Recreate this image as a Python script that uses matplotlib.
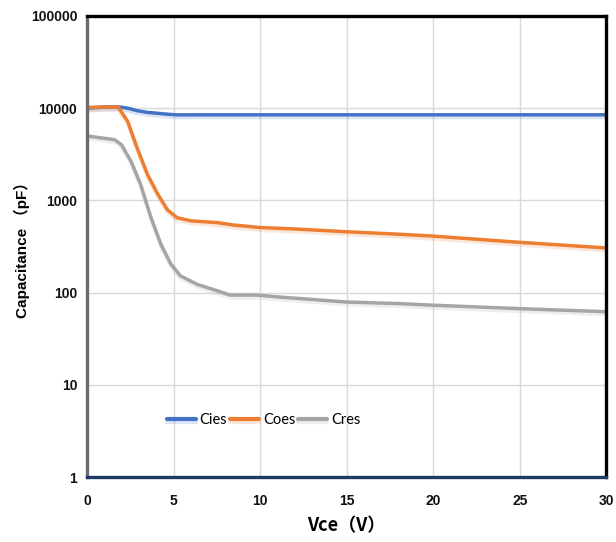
import numpy as np
import matplotlib
matplotlib.use("Agg")
import matplotlib.pyplot as plt
import matplotlib.patheffects as pe

plt.rcParams["font.family"] = ["Liberation Sans", "DejaVu Sans"]

# values (Vce in V, capacitance in pF)
vce = [0, 1, 1.8, 2.35, 2.9, 3.5, 4.1, 4.65, 5.2, 6.0, 7.5, 8.5, 10, 12, 15, 18, 20, 25, 30]
cies = [10000, 10300, 10350, 10000, 9400, 9000, 8800, 8600, 8470, 8470, 8480,
        8480, 8480, 8480, 8480, 8480, 8480, 8480, 8480]
coes = [10200, 10300, 10300, 7200, 3700, 1900, 1160, 790, 650, 600, 575, 540,
        508, 490, 457, 430, 410, 351, 305]

vce_r = [0, 1.6, 2.0, 2.55, 3.1, 3.7, 4.27, 4.84, 5.4, 6.36, 7.5, 8.27, 9.8,
         11.3, 15, 18, 20, 25, 30]
cres = [5000, 4550, 4000, 2650, 1490, 650, 335, 205, 152, 123, 105, 94, 94,
        89, 79, 76, 73, 67, 62]

x_ticks = [0, 5, 10, 15, 20, 25, 30]
y_ticks = [1, 10, 100, 1000, 10000, 100000]

colors = {"Cies": "#4472C4", "Coes": "#ED7D31", "Cres": "#A5A5A5"}

fig = plt.figure(figsize=(6.16, 5.42), dpi=100)
ax = fig.add_axes([0.1412, 0.1199, 0.8430, 0.8506])

for name, xs, ys in [("Cies", vce, cies), ("Coes", vce, coes), ("Cres", vce_r, cres)]:
    c = colors[name]
    ax.plot(xs, ys, color=c, lw=2.5, label=name, solid_capstyle="round",
            solid_joinstyle="round",
            path_effects=[pe.SimpleLineShadow(offset=(0, -2), shadow_color=c, alpha=0.18),
                          pe.Normal()])

ax.set_yscale("log")
ax.set_xlim(0, 30)
ax.set_ylim(1, 100000)
ax.set_xticks(x_ticks)
ax.set_xticklabels([str(t) for t in x_ticks])
ax.set_yticks(y_ticks)
ax.set_yticklabels([str(t) for t in y_ticks])
ax.minorticks_off()
ax.tick_params(length=0, pad=7, labelsize=10)
for lab in ax.get_xticklabels() + ax.get_yticklabels():
    lab.set_fontweight("bold")
    lab.set_color("#111111")
ax.tick_params(axis="x", pad=12)

ax.grid(True, color="#d9d9d9", lw=1.0)
ax.set_axisbelow(True)

ax.spines["left"].set_color("#6b6b6b")
ax.spines["left"].set_linewidth(2.4)
ax.spines["top"].set_color("black")
ax.spines["top"].set_linewidth(2.4)
ax.spines["right"].set_color("black")
ax.spines["right"].set_linewidth(2.4)
ax.spines["bottom"].set_color("#1f3864")
ax.spines["bottom"].set_linewidth(2.4)

ax.set_xlabel("Vce（V）", fontsize=13, fontweight="bold", labelpad=6,
              family=["Noto Sans CJK SC", "DejaVu Sans"])
ax.set_ylabel("Capacitance （pF）", fontsize=11, fontweight="bold",
              family=["Liberation Sans", "Noto Sans CJK SC"])
ax.yaxis.set_label_coords(-0.11, 0.5)

leg = ax.legend(loc="center", bbox_to_anchor=(0.34, 0.124), ncol=3, frameon=False,
                handlelength=2.0, columnspacing=0.2, handletextpad=0.25,
                prop={"family": "Lato", "size": 10.5})
for line in leg.get_lines():
    line.set_linewidth(3)

fig.savefig("out.png", dpi=100, facecolor="white")
